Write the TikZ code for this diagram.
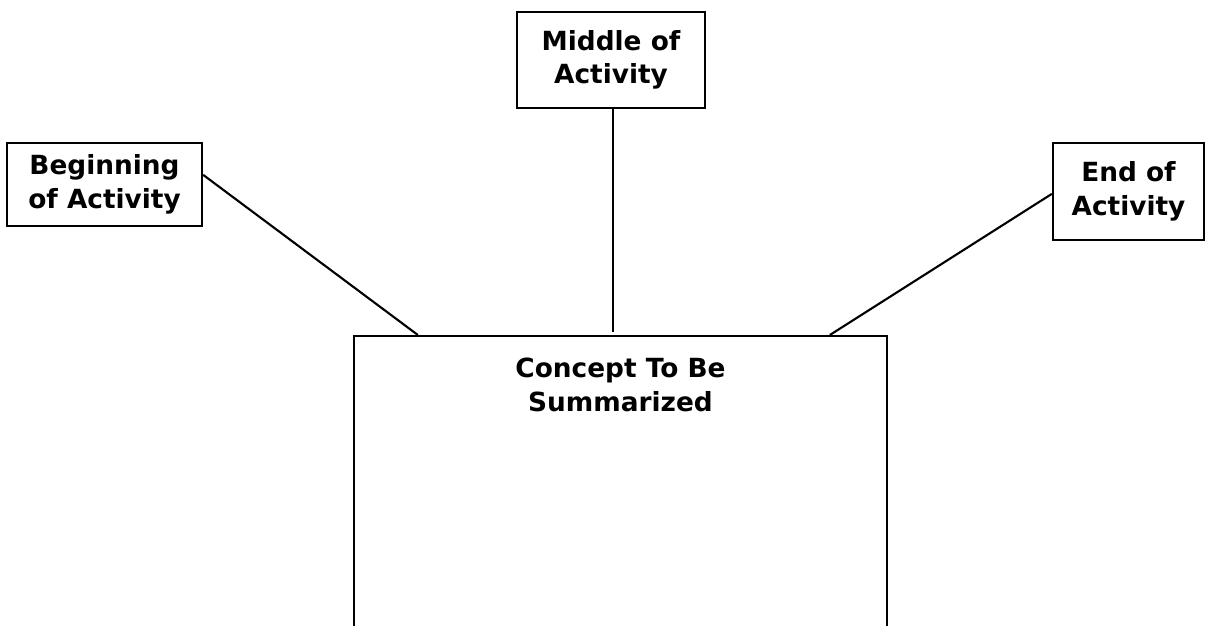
\documentclass[tikz,border=0pt]{standalone}
\usepackage{fontspec}
\setmainfont{DejaVu Sans}
\usetikzlibrary{calc}

\begin{document}
\begin{tikzpicture}[x=0.02cm, y=-0.02cm,
    tagbox/.style={draw, line width=1.3pt, align=center, inner sep=0pt,
      font=\bfseries\fontsize{15}{19}\selectfont},
    link/.style={line width=1.2pt}]
  \useasboundingbox (0,0) rectangle (1206,625);

  % the three time boxes
  \node[tagbox, minimum width=188*0.02cm, minimum height=96*0.02cm] (middle) at (611,60) {Middle of\\Activity};
  \node[tagbox, minimum width=195*0.02cm, minimum height=83*0.02cm] (begin) at (104.5,184.5) {Beginning\\of Activity};
  \node[tagbox, minimum width=151*0.02cm, minimum height=97*0.02cm] (end) at (1128.5,191.5) {End of\\Activity};

  % concept box, its bottom runs off the page
  \node[draw, line width=1.3pt, minimum width=533*0.02cm, minimum height=400*0.02cm,
        anchor=north] (concept) at (620.5,335) {};
  \node[anchor=north, align=center, font=\bfseries\fontsize{15}{19}\selectfont]
    (concepttext) at ($(concept.north)+(0,17)$) {Concept To Be\\Summarized};

  % connectors
  \draw[link] ($(begin.north east)+(0,33)$) -- ($(concept.north west)+(65,0)$);
  \draw[link] ($(middle.south)+(2,0)$) -- ($(concept.north)+(-7.5,-3)$);
  \draw[link] ($(end.north west)+(0,52)$) -- ($(concept.north west)+(477,0)$);
\end{tikzpicture}
\end{document}
